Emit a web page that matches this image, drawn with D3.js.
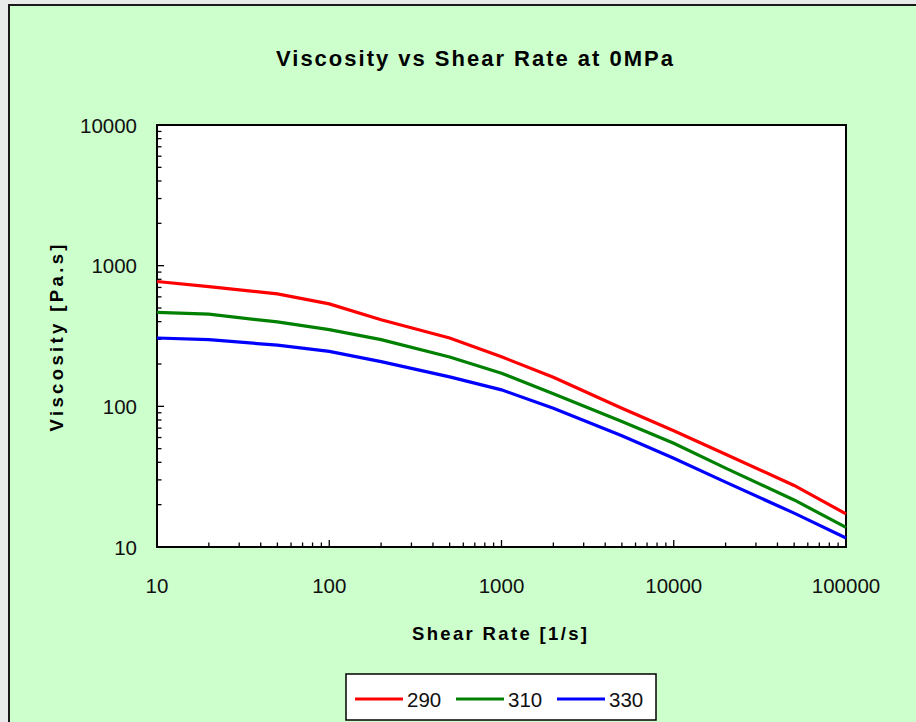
<!DOCTYPE html>
<html>
<head>
<meta charset="UTF-8">
<script src="https://d3js.org/d3.v7.min.js"></script>
<style>
  body { margin: 0; padding: 0; background: #e9ebeb; }
  svg { display: block; font-family: "Liberation Sans", Arial, sans-serif; }
</style>
</head>
<body>
<svg id="chart" width="916" height="722"></svg>
<script>
// data
const shearRate = [10, 20, 50, 100, 200, 500, 1000, 2000, 5000, 10000, 20000, 50000, 100000];
const visc290 = [772, 710, 630, 535, 413, 306, 225, 161, 97, 67, 45.7, 27.4, 17.2];
const visc310 = [465, 452, 398, 351, 298, 224, 172, 123, 78, 54.7, 36.4, 21.6, 13.8];
const visc330 = [306, 298, 272, 246, 208, 162, 131, 97, 61.7, 42.8, 28.9, 17.4, 11.6];
const seriesNames = ["290", "310", "330"];
const seriesColors = ["#ff0000", "#008000", "#0000ff"];
const xTicks = [10, 100, 1000, 10000, 100000];
const yTicks = [10, 100, 1000, 10000];

const svg = d3.select("#chart");
const plot = { left: 157, right: 846, top: 125, bottom: 547 };

// outer green panel
svg.append("rect")
  .attr("x", 9).attr("y", 5)
  .attr("width", 1000).attr("height", 1000)
  .attr("fill", "#ccffcc")
  .attr("stroke", "#1a1a1a").attr("stroke-width", 2);

const x = d3.scaleLog().domain([10, 100000]).range([plot.left, plot.right]);
const y = d3.scaleLog().domain([10, 10000]).range([plot.bottom, plot.top]);

svg.append("rect")
  .attr("x", plot.left).attr("y", plot.top)
  .attr("width", plot.right - plot.left).attr("height", plot.bottom - plot.top)
  .attr("fill", "#fff")
  .attr("stroke", "#000").attr("stroke-width", 2);

// minor + major ticks pointing into the plot
const xMinor = [], yMinor = [];
for (let d = 10; d < 100000; d *= 10) for (let k = 1; k < 10; k++) xMinor.push(d * k);
xMinor.push(100000);
for (let d = 10; d < 10000; d *= 10) for (let k = 1; k < 10; k++) yMinor.push(d * k);
yMinor.push(10000);

const isMajor = v => Math.abs(Math.log10(v) - Math.round(Math.log10(v))) < 1e-9;

svg.append("g").selectAll("line").data(xMinor).join("line")
  .attr("x1", d => x(d)).attr("x2", d => x(d))
  .attr("y1", plot.bottom).attr("y2", d => plot.bottom - (isMajor(d) ? 7 : 4.5))
  .attr("stroke", "#000").attr("stroke-width", 1.3);

svg.append("g").selectAll("line").data(yMinor).join("line")
  .attr("y1", d => y(d)).attr("y2", d => y(d))
  .attr("x1", plot.left).attr("x2", d => plot.left + (isMajor(d) ? 7 : 4.5))
  .attr("stroke", "#000").attr("stroke-width", 1.3);

// tick labels
svg.append("g").selectAll("text").data(xTicks).join("text")
  .attr("x", d => x(d)).attr("y", 593)
  .attr("text-anchor", "middle")
  .attr("font-size", 20.5).attr("fill", "#111")
  .text(d => d);

svg.append("g").selectAll("text").data(yTicks).join("text")
  .attr("x", 137).attr("y", d => y(d) + 7.5)
  .attr("text-anchor", "end")
  .attr("font-size", 20.5).attr("fill", "#111")
  .text(d => d);

// lines
const line = d3.line().x(d => x(d[0])).y(d => y(d[1]));
[visc290, visc310, visc330].forEach((vals, i) => {
  svg.append("path")
    .datum(shearRate.map((s, j) => [s, vals[j]]))
    .attr("d", line)
    .attr("fill", "none")
    .attr("stroke", seriesColors[i])
    .attr("stroke-width", 3.2);
});

// titles
svg.append("text")
  .attr("x", 474.5).attr("y", 66)
  .attr("text-anchor", "middle")
  .attr("font-size", 22).attr("font-weight", "bold")
  .attr("textLength", 397).attr("lengthAdjust", "spacing")
  .text("Viscosity vs Shear Rate at 0MPa");

svg.append("text")
  .attr("x", 499.5).attr("y", 640)
  .attr("text-anchor", "middle")
  .attr("font-size", 18.5).attr("font-weight", "bold")
  .attr("textLength", 175).attr("lengthAdjust", "spacing")
  .text("Shear Rate [1/s]");

svg.append("text")
  .attr("transform", "translate(63,338) rotate(-90)")
  .attr("text-anchor", "middle")
  .attr("font-size", 18.5).attr("font-weight", "bold")
  .attr("textLength", 187).attr("lengthAdjust", "spacing")
  .text("Viscosity [Pa.s]");

// legend
const legend = svg.append("g");
legend.append("rect")
  .attr("x", 346).attr("y", 674).attr("width", 310).attr("height", 46)
  .attr("fill", "#fff").attr("stroke", "#000").attr("stroke-width", 1.5);
const legX = [355, 456, 557];
seriesNames.forEach((name, i) => {
  legend.append("line")
    .attr("x1", legX[i]).attr("x2", legX[i] + 48)
    .attr("y1", 699).attr("y2", 699)
    .attr("stroke", seriesColors[i]).attr("stroke-width", 3.2);
  legend.append("text")
    .attr("x", legX[i] + 52).attr("y", 706.5)
    .attr("font-size", 20.5).attr("fill", "#111")
    .text(name);
});
</script>
</body>
</html>
